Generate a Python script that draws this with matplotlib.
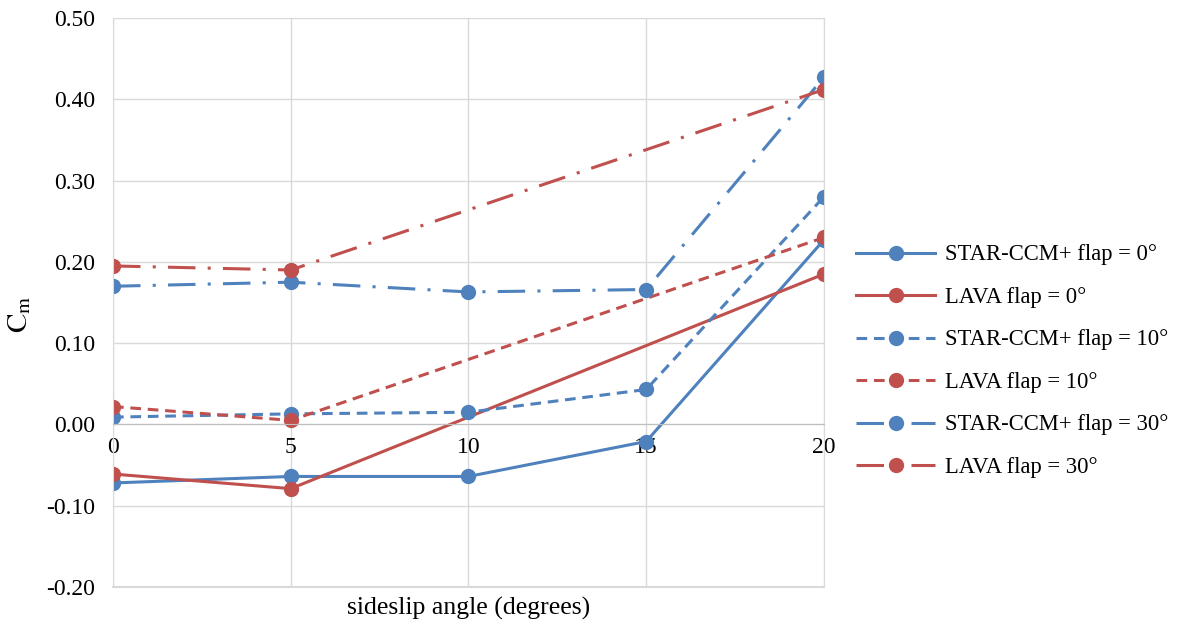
import matplotlib.pyplot as plt

plt.rcParams['font.family'] = ['Liberation Serif', 'DejaVu Serif']
plt.rcParams['mathtext.fontset'] = 'stix'

# sideslip angles
beta = [0, 5, 10, 15, 20]
beta_lava = [0, 5, 20]

# pitching moment coefficient
star_0 = [-0.072, -0.064, -0.064, -0.021, 0.227]
lava_0 = [-0.061, -0.079, 0.185]
star_10 = [0.009, 0.013, 0.015, 0.043, 0.280]
lava_10 = [0.022, 0.005, 0.230]
star_30 = [0.170, 0.175, 0.163, 0.166, 0.427]
lava_30 = [0.195, 0.190, 0.412]

yticks = [-0.20, -0.10, 0.00, 0.10, 0.20, 0.30, 0.40, 0.50]

blue = '#4f81bd'
red = '#c0504d'
grid_col = '#d9d9d9'
dash = (0, (3.5, 2.2))
dashdot = (0, (9, 4, 1, 4))

fig = plt.figure(figsize=(11.77, 6.26), dpi=100)
ax = fig.add_axes([0.096, 0.0623, 0.604, 0.9089])

kw = dict(lw=2.2, marker='o', markersize=10)
ax.plot(beta, star_0, color=blue, ls='-', label='STAR-CCM+ flap = 0°', **kw)
ax.plot(beta_lava, lava_0, color=red, ls='-', label='LAVA flap = 0°', **kw)
ax.plot(beta, star_10, color=blue, ls=dash, label='STAR-CCM+ flap = 10°', **kw)
ax.plot(beta_lava, lava_10, color=red, ls=dash, label='LAVA flap = 10°', **kw)
ax.plot(beta, star_30, color=blue, ls=dashdot, label='STAR-CCM+ flap = 30°', **kw)
ax.plot(beta_lava, lava_30, color=red, ls=dashdot, label='LAVA flap = 30°', **kw)

ax.set_xlim(0, 20)
ax.set_ylim(-0.20, 0.50)
ax.set_xticks(beta)
ax.set_yticks(yticks)
ax.set_yticklabels([f'{v:.2f}' for v in yticks])
ax.grid(True, color=grid_col, lw=1)
ax.set_axisbelow(True)
ax.axhline(-0.20, color=grid_col, lw=1.5, clip_on=False, zorder=0)

ax.spines['top'].set_visible(False)
ax.spines['right'].set_color(grid_col)
ax.spines['left'].set_color(grid_col)
ax.spines['bottom'].set_position(('data', 0))
ax.spines['bottom'].set_color('#bfbfbf')
ax.tick_params(axis='both', length=0, labelsize=17)
ax.tick_params(axis='y', pad=13)
ax.tick_params(axis='x', pad=9)

ax.set_xlabel('sideslip angle (degrees)', fontsize=18.5)
ax.xaxis.set_label_coords(0.5, -0.018)
ax.set_ylabel(r'$\mathrm{C_m}$', fontsize=21)
ax.yaxis.set_label_coords(-0.113, 0.48)

ax.legend(loc='center left', bbox_to_anchor=(0.71, 0.423),
          bbox_transform=fig.transFigure, frameon=False, fontsize=16.3,
          handlelength=3.5, labelspacing=0.95, handletextpad=0.45)

plt.savefig('out.png', dpi=100)
